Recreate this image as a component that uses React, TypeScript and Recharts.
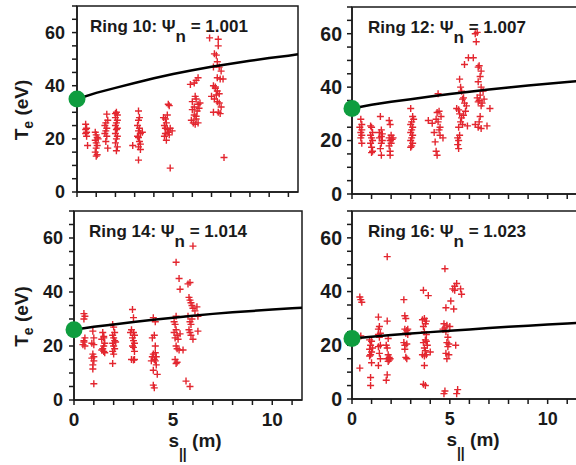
import { ScatterChart, Scatter, XAxis, YAxis, ReferenceArea } from 'recharts';

// axis ticks (every 1 m along s, every 5 eV along Te; labels only on majors)
const S_TICKS = [0, 1, 2, 3, 4, 5, 6, 7, 8, 9, 10, 11];
const T_TICKS = [0, 5, 10, 15, 20, 25, 30, 35, 40, 45, 50, 55, 60, 65, 70];
const S_LABELS = [0, 5, 10];
const T_LABELS = [0, 20, 40, 60];

// Ring 10, psi_n = 1.001
const RING10_POINTS: [number, number][] = [
  [0.45, 25.5], [0.5, 24], [0.45, 23.5], [0.5, 22.5], [0.45, 22], [0.5, 21], [0.55, 17.5],
  [0.95, 22.5], [1.0, 21.5], [1.05, 20.5], [0.95, 19.5], [1.0, 18.5], [1.05, 17.5], [1.0, 16.5], [0.95, 15], [1.05, 14], [1.0, 13.5], [1.1, 20],
  [1.55, 29.3], [1.6, 27], [1.5, 26], [1.45, 25], [1.55, 24], [1.5, 23], [1.45, 22], [1.55, 21], [1.5, 19], [1.6, 16.5],
  [2.05, 30], [2.1, 29], [2.0, 28], [2.1, 27], [2.05, 26], [2.0, 25], [2.1, 24], [2.05, 23.5], [2.0, 22], [2.1, 21], [2.05, 20], [2.0, 18.5], [2.1, 17], [2.05, 15.5], [2.0, 29.5],
  [3.2, 30.5], [3.25, 28], [3.2, 27], [3.15, 25], [3.25, 24], [3.2, 23], [3.3, 22], [3.15, 21], [3.2, 20.5], [3.25, 19], [3.3, 18], [3.2, 17], [3.3, 16], [3.4, 22.5], [2.9, 17.5], [3.2, 12],
  [4.6, 27.5], [4.5, 28], [4.7, 29], [4.65, 26], [4.55, 25], [4.6, 24], [4.7, 23.5], [4.75, 22.5], [4.6, 22], [4.55, 21], [4.65, 19.5], [4.75, 33], [4.8, 32.5], [4.85, 24], [4.95, 23], [4.8, 21.5], [4.85, 9],
  [5.9, 40.5], [6.1, 41], [6.2, 42], [6.3, 43], [6.15, 36], [6.0, 34], [6.2, 35], [6.3, 33], [6.1, 32], [6.0, 31], [6.25, 30.5], [6.35, 31.5], [5.95, 27], [6.05, 26], [6.2, 27.5], [6.3, 26], [6.15, 25.5], [6.4, 33.5], [6.1, 29], [6.2, 28.5],
  [6.9, 58], [7.35, 57.5], [7.35, 55], [7.15, 52], [7.25, 51.5], [7.3, 49], [7.4, 47], [7.1, 47], [7.5, 45.5], [7.3, 43], [7.45, 42.5], [7.6, 42.5], [7.1, 40], [7.2, 39.5], [7.3, 38], [7.4, 37], [7.0, 36], [7.15, 35], [7.3, 34], [7.4, 33.5], [7.5, 32], [7.1, 30], [7.35, 30], [7.45, 29.5], [7.65, 13], [7.25, 36.5], [7.2, 39],
];
const RING10_CURVE: [number, number][] = [
  [0, 35], [1, 37.3], [2, 39.2], [3, 41], [4, 42.8], [5, 44.4], [6, 45.8], [7, 47.1], [8, 48.3], [9, 49.4], [10, 50.4], [11, 51.3], [11.5, 51.8],
];
const RING10_START = 35;

// Ring 12, psi_n = 1.007
const RING12_POINTS: [number, number][] = [
  [0.45, 28], [0.5, 26], [0.4, 25], [0.5, 24], [0.45, 23], [0.5, 22], [0.45, 21], [0.5, 19],
  [0.95, 25.5], [1.0, 25], [1.05, 23], [0.95, 22], [1.0, 21], [1.05, 20], [0.95, 19], [1.0, 17.5], [1.05, 16], [1.0, 15.5],
  [1.45, 29], [1.5, 24], [1.4, 23], [1.55, 22.5], [1.5, 21.5], [1.4, 21], [1.55, 20], [1.5, 19], [1.45, 17], [1.5, 14.5],
  [1.9, 27.5], [1.95, 26], [2.0, 22], [1.9, 21], [2.05, 20.5], [1.95, 20], [2.0, 19], [1.9, 18], [1.95, 16], [1.95, 14.5], [2.1, 21],
  [3.0, 32], [3.1, 29], [3.15, 28], [3.05, 27], [3.0, 26], [3.1, 25], [3.05, 24], [3.0, 23], [3.1, 22], [3.05, 21], [3.0, 20], [3.1, 19], [3.05, 18], [3.0, 17.5],
  [3.9, 27.5], [4.1, 26.5], [4.3, 28], [4.35, 30.5], [4.45, 31], [4.4, 27], [4.5, 25], [4.45, 24], [4.5, 22], [4.65, 21], [4.25, 19.5], [4.3, 16], [4.35, 14.5], [4.4, 37.5], [4.2, 23], [4.55, 29],
  [5.35, 32], [5.45, 31.5], [5.5, 30], [5.6, 28.5], [5.55, 27], [5.65, 26], [5.45, 25], [5.5, 22], [5.4, 21], [5.45, 20], [5.4, 18.5], [5.45, 17], [5.5, 43], [5.55, 40], [5.6, 38.5], [5.7, 36], [5.75, 34], [5.85, 33], [5.8, 31], [5.7, 29.5], [5.75, 48.5], [5.95, 51], [5.65, 35.5], [5.9, 25.5],
  [6.3, 60], [6.35, 57], [6.2, 51], [6.5, 48], [6.45, 47.5], [6.6, 46], [6.55, 44], [6.45, 42], [6.6, 40], [6.7, 38.5], [6.55, 37], [6.4, 36], [6.5, 35], [6.65, 34], [6.6, 33], [6.45, 34.5], [6.75, 35.5], [6.5, 27], [6.3, 26], [6.45, 25], [6.6, 24.5], [6.55, 29], [6.9, 25.5], [7.05, 32], [6.4, 60.5],
];
const RING12_CURVE: [number, number][] = [
  [0, 32], [1, 33.4], [2, 34.5], [3, 35.5], [4, 36.5], [5, 37.4], [6, 38.3], [7, 39.1], [8, 39.9], [9, 40.6], [10, 41.3], [11, 41.9], [11.5, 42.2],
];
const RING12_START = 32;

// Ring 14, psi_n = 1.014
const RING14_POINTS: [number, number][] = [
  [0.5, 32], [0.55, 31], [0.5, 30], [0.55, 23], [0.5, 21.5], [0.45, 20.5], [0.55, 20], [0.5, 22],
  [0.95, 25.5], [1.0, 23], [0.9, 21], [1.0, 20.5], [0.95, 17], [1.0, 16], [0.9, 15.5], [1.0, 14.5], [0.95, 13], [0.95, 11.5], [1.0, 6],
  [1.45, 25], [1.5, 23.5], [1.4, 22.5], [1.55, 21], [1.5, 20], [1.45, 19], [1.4, 18.5], [1.5, 18], [1.55, 17.5], [1.5, 23],
  [1.95, 28], [2.0, 27], [2.05, 25], [1.95, 24], [2.0, 23], [2.05, 22], [1.95, 21], [2.0, 20], [2.05, 19], [1.95, 18], [2.0, 17], [1.95, 13.5], [2.1, 21.5],
  [2.95, 33.5], [3.0, 30.5], [2.9, 26], [3.0, 25], [3.05, 24], [2.95, 23], [3.0, 22], [3.05, 21], [2.95, 20], [3.0, 19.5], [3.05, 18], [2.9, 15], [3.0, 14.8], [3.05, 15], [2.85, 25],
  [4.0, 30.5], [4.1, 29], [3.95, 23], [4.05, 24], [4.1, 20], [4.0, 17], [3.95, 16], [4.05, 15], [4.1, 14.5], [3.9, 14.5], [4.15, 13], [4.2, 9.5], [4.0, 11], [4.0, 5.5], [4.05, 4.5], [4.1, 17.5], [4.15, 16],
  [5.15, 51], [5.3, 45], [5.35, 41], [5.05, 29], [5.1, 28], [5.15, 26], [5.05, 25], [5.2, 24], [5.1, 23], [5.25, 22.5], [5.15, 20], [5.2, 19], [5.3, 18.5], [5.1, 15], [5.2, 14], [5.15, 13.5], [5.35, 24.5], [5.5, 18.5], [5.15, 31],
  [6.0, 57], [5.75, 43], [5.85, 43.5], [5.8, 38], [5.85, 37], [5.9, 36], [5.95, 35], [6.0, 34], [6.1, 33], [6.2, 34.5], [6.25, 31], [5.75, 31], [5.85, 29], [5.9, 28], [5.8, 26], [5.85, 25], [5.9, 24], [6.0, 22.5], [6.25, 25.5], [5.65, 7], [5.85, 5], [5.95, 30],
];
const RING14_CURVE: [number, number][] = [
  [0, 26], [1, 27.1], [2, 28], [3, 28.9], [4, 29.7], [5, 30.5], [6, 31.2], [7, 31.9], [8, 32.5], [9, 33], [10, 33.5], [11, 34], [11.5, 34.2],
];
const RING14_START = 26;

// Ring 16, psi_n = 1.023
const RING16_POINTS: [number, number][] = [
  [0.4, 38], [0.45, 37], [0.5, 36], [0.45, 23.5], [0.4, 11.5],
  [0.9, 22], [1.0, 21.5], [0.95, 20], [0.9, 18.5], [1.0, 17.5], [0.95, 16.5], [0.9, 16], [1.0, 13.5], [0.95, 8], [0.95, 5], [1.05, 19],
  [1.35, 30.5], [1.4, 27], [1.35, 26], [1.45, 24.5], [1.35, 24], [1.4, 23], [1.45, 20], [1.35, 19.5], [1.4, 17], [1.45, 15], [1.35, 12.5],
  [1.8, 53], [1.8, 29], [1.85, 22.5], [1.75, 20], [1.8, 19], [1.85, 16.5], [1.9, 15.5], [1.8, 15], [1.9, 14.5], [1.85, 14], [1.8, 9], [1.75, 7], [1.95, 15],
  [2.65, 37], [2.7, 31], [2.75, 30], [2.7, 26], [2.8, 25.5], [2.75, 24.5], [2.85, 24], [2.65, 21], [2.7, 20], [2.8, 20.5], [2.7, 18.5], [2.75, 15.5], [2.8, 15], [2.85, 26],
  [3.65, 40.5], [3.9, 38.5], [3.6, 29.5], [3.7, 30], [3.8, 29], [3.75, 28], [3.65, 27], [3.7, 25], [3.8, 24], [3.75, 22], [3.65, 21], [3.8, 21.5], [3.7, 19], [3.75, 18], [3.6, 16.5], [3.7, 16], [3.8, 16.5], [4.0, 17.5], [3.7, 12.5], [3.65, 5.5], [3.75, 5], [3.85, 20],
  [4.75, 48.5], [4.8, 34], [4.7, 28], [4.85, 27.5], [4.75, 26.5], [4.65, 26], [4.8, 25], [4.9, 23], [4.85, 21], [4.95, 20.5], [4.9, 19.5], [4.8, 17], [4.85, 15], [5.0, 27], [4.75, 3], [4.7, 2], [4.95, 16.5],
  [5.05, 36.5], [5.15, 41], [5.25, 40.5], [5.35, 43], [5.55, 41], [5.6, 39], [5.2, 33.5], [5.3, 20], [5.4, 3.5], [5.35, 2], [5.25, 42],
];
const RING16_CURVE: [number, number][] = [
  [0, 22.5], [1, 23.2], [2, 23.8], [3, 24.4], [4, 24.9], [5, 25.4], [6, 25.9], [7, 26.4], [8, 26.9], [9, 27.3], [10, 27.7], [11, 28.1], [11.5, 28.3],
];
const RING16_START = 22.5;

const RED = '#e3262f';
const GREEN = '#0f9d3f';
const INK = '#1a1a1a';
const FONT = '"Liberation Sans", Arial, Helvetica, sans-serif';

const toRows = (pairs: [number, number][]) => pairs.map(([s, t]) => ({ s, t }));

function PlusMark(props: any) {
  const { cx, cy } = props;
  if (cx == null || cy == null) return <g />;
  const r = 3.5;
  return (
    <path
      d={`M${cx - r},${cy}H${cx + r}M${cx},${cy - r}V${cy + r}`}
      stroke={RED}
      strokeWidth={1.4}
      fill="none"
    />
  );
}

function StartDot(props: any) {
  const { cx, cy } = props;
  if (cx == null || cy == null) return <g />;
  return <circle cx={cx} cy={cy} r={8.5} fill={GREEN} />;
}

const NoMark = () => <g />;

function TitleLabel(props: any) {
  const { viewBox, ring, psi, dx } = props;
  if (!viewBox) return null;
  return (
    <text
      x={viewBox.x + dx}
      y={viewBox.y + 25.5}
      fontFamily={FONT}
      fontWeight="bold"
      fontSize={17}
      fill={INK}
    >
      {`Ring ${ring}: Ψ`}
      <tspan dy={10}>n</tspan>
      <tspan dy={-10}>{` = ${psi}`}</tspan>
    </text>
  );
}

function YTitle(props: any) {
  const { viewBox } = props;
  if (!viewBox) return null;
  const x = 28;
  const y = viewBox.y + viewBox.height / 2 + 11;
  return (
    <text
      x={x}
      y={y}
      transform={`rotate(-90 ${x} ${y})`}
      textAnchor="middle"
      fontFamily={FONT}
      fontWeight="bold"
      fontSize={19}
      fill={INK}
    >
      T<tspan dy={5} fontSize={14}>e</tspan>
      <tspan dy={-5}> (eV)</tspan>
    </text>
  );
}

function XTitle(props: any) {
  const { viewBox } = props;
  if (!viewBox) return null;
  return (
    <text
      x={viewBox.x + 121}
      y={viewBox.y + 47}
      textAnchor="middle"
      fontFamily={FONT}
      fontWeight="bold"
      fontSize={19}
      fill={INK}
    >
      s<tspan dy={12} fontSize={14}>||</tspan>
      <tspan dy={-12}> (m)</tspan>
    </text>
  );
}

type PanelProps = {
  left: number;
  top: number;
  width: number;
  height: number;
  marginTop: number;
  marginRight: number;
  yAxisWidth: number;
  xAxisHeight: number;
  yTickMargin: number;
  yTickFont: number;
  xTickFont: number;
  ring: number;
  psi: string;
  titleDx: number;
  points: [number, number][];
  curve: [number, number][];
  start: number;
  bottomRow: boolean;
  leftCol: boolean;
};

function Panel(p: PanelProps) {
  const axisStyle = { stroke: INK, strokeWidth: 1.5 };

  const renderXTick = (t: any) => {
    const v = t.payload?.value;
    if (!p.bottomRow || !S_LABELS.includes(v)) return <g />;
    return (
      <text x={t.x} y={t.y} dy="0.71em" textAnchor="middle" fontFamily={FONT} fontWeight="bold" fontSize={p.xTickFont} fill={INK}>
        {v}
      </text>
    );
  };

  const renderYTick = (t: any) => {
    const v = t.payload?.value;
    if (!T_LABELS.includes(v)) return <g />;
    return (
      <text x={t.x} y={t.y} dy="0.355em" textAnchor="end" fontFamily={FONT} fontWeight="bold" fontSize={p.yTickFont} fill={INK}>
        {v}
      </text>
    );
  };

  return (
    <div style={{ position: 'absolute', left: p.left, top: p.top }}>
      <ScatterChart
        width={p.width}
        height={p.height}
        margin={{ top: p.marginTop, right: p.marginRight, bottom: 0, left: 0 }}
      >
        <XAxis
          type="number"
          dataKey="s"
          domain={[0, 11.5]}
          ticks={S_TICKS}
          interval={0}
          height={p.xAxisHeight}
          tickSize={5}
          tickMargin={8}
          axisLine={axisStyle}
          tickLine={axisStyle}
          tick={renderXTick}
          label={p.bottomRow ? <XTitle /> : undefined}
        />
        <YAxis
          type="number"
          dataKey="t"
          domain={[0, 70]}
          ticks={T_TICKS}
          interval={0}
          width={p.yAxisWidth}
          tickSize={5}
          tickMargin={p.yTickMargin}
          axisLine={axisStyle}
          tickLine={axisStyle}
          tick={renderYTick}
          label={p.leftCol ? <YTitle /> : undefined}
        />
        <ReferenceArea
          x1={0}
          x2={11.5}
          y1={0}
          y2={70}
          fill="none"
          fillOpacity={0}
          stroke={INK}
          strokeWidth={1.5}
          label={<TitleLabel ring={p.ring} psi={p.psi} dx={p.titleDx} />}
        />
        <Scatter data={toRows(p.points)} shape={PlusMark} isAnimationActive={false} />
        <Scatter
          data={toRows(p.curve)}
          shape={NoMark}
          line={{ stroke: '#000', strokeWidth: 2.5 }}
          lineType="joint"
          isAnimationActive={false}
        />
        <Scatter data={[{ s: 0, t: p.start }]} shape={StartDot} isAnimationActive={false} />
      </ScatterChart>
    </div>
  );
}

export default function App() {
  return (
    <div
      style={{
        position: 'fixed',
        left: 0,
        top: 0,
        width: 576,
        height: 465,
        overflow: 'hidden',
        background: '#fff',
      }}
    >
      <Panel
        left={0} top={0} width={310} height={212}
        marginTop={6} marginRight={12} yAxisWidth={77} xAxisHeight={20}
        yTickMargin={7} yTickFont={18} xTickFont={19}
        ring={10} psi="1.001" titleDx={13}
        points={RING10_POINTS} curve={RING10_CURVE} start={RING10_START}
        bottomRow={false} leftCol
      />
      <Panel
        left={300} top={0} width={290} height={212}
        marginTop={7} marginRight={13} yAxisWidth={52} xAxisHeight={18}
        yTickMargin={5} yTickFont={19.5} xTickFont={18}
        ring={12} psi="1.007" titleDx={16}
        points={RING12_POINTS} curve={RING12_CURVE} start={RING12_START}
        bottomRow={false} leftCol={false}
      />
      <Panel
        left={0} top={205} width={312} height={265}
        marginTop={6} marginRight={10} yAxisWidth={74} xAxisHeight={70}
        yTickMargin={6} yTickFont={18} xTickFont={19}
        ring={14} psi="1.014" titleDx={15}
        points={RING14_POINTS} curve={RING14_CURVE} start={RING14_START}
        bottomRow leftCol
      />
      <Panel
        left={300} top={205} width={290} height={265}
        marginTop={6} marginRight={13} yAxisWidth={52} xAxisHeight={71}
        yTickMargin={5} yTickFont={19.5} xTickFont={18}
        ring={16} psi="1.023" titleDx={16}
        points={RING16_POINTS} curve={RING16_CURVE} start={RING16_START}
        bottomRow leftCol={false}
      />
    </div>
  );
}
